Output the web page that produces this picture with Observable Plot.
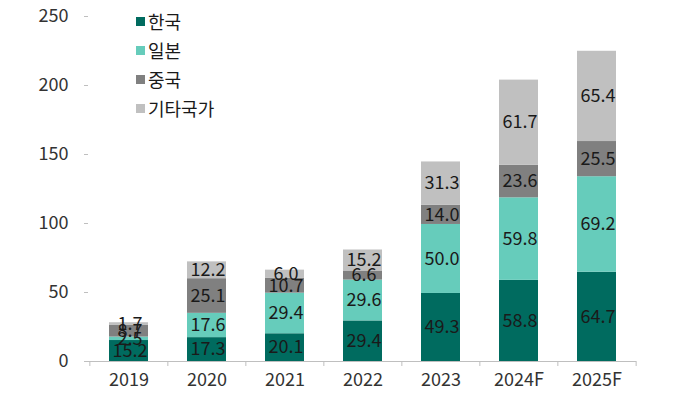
<!DOCTYPE html>
<html><head><meta charset="utf-8">
<script src="https://cdn.jsdelivr.net/npm/d3@7"></script>
<script src="https://cdn.jsdelivr.net/npm/@observablehq/plot@0.6"></script>
<style>
body{margin:0;background:#fff;font-family:"Noto Sans CJK KR","Noto Sans",sans-serif;}
#wrap{position:relative;width:680px;height:395px;}
#legend{position:absolute;left:136px;top:7px;font-size:18px;color:#1a1a1a;line-height:29px;}
#legend .it{display:flex;align-items:center;}
#legend .sw{width:9px;height:9px;margin-right:3px;display:inline-block;}
</style></head>
<body><div id="wrap"><div id="legend"></div></div>
<script>
const years = ["2019","2020","2021","2022","2023","2024F","2025F"];
const series = ["한국","일본","중국","기타국가"];
const korea = [15.2,17.3,20.1,29.4,49.3,58.8,64.7];
const japan = [2.5,17.6,29.4,29.6,50.0,59.8,69.2];
const china = [8.7,25.1,10.7,6.6,14.0,23.6,25.5];
const other = [1.7,12.2,6.0,15.2,31.3,61.7,65.4];
const colors = ["#006B5F","#66CCBB","#808080","#C0C0C0"];
const yTicks = [0,50,100,150,200,250];

const vals = [korea,japan,china,other];
const data = [];
years.forEach((y,i)=>series.forEach((s,j)=>data.push({year:y,series:s,value:vals[j][i]})));

const W=680,H=395,ML=88,MR=44,MT=16,MB=34;
const step=(W-ML-MR)/years.length;
const font='"Noto Sans CJK KR","Noto Sans",sans-serif';

const plot = Plot.plot({
  width:W,height:H,
  marginLeft:ML,marginRight:MR,marginTop:MT,marginBottom:MB,
  style:{fontFamily:font,fontSize:"18px",color:"#333",background:"#fff"},
  x:{domain:years,paddingInner:0.5,paddingOuter:0.25,label:null},
  y:{domain:[0,250],label:null},
  color:{domain:series,range:colors},
  marks:[
    Plot.barY(data,{x:"year",y:"value",z:"series",fill:"series",order:null}),
    Plot.text(data,Plot.stackY({x:"year",y:"value",z:"series",order:null,text:d=>d.value.toFixed(1),fill:"#1a1a1a",fontSize:18,dx:1})),
    Plot.ruleY([0],{stroke:"#bfbfbf",strokeWidth:1}),
    Plot.ruleX([0],{frameAnchor:"left",stroke:"#bfbfbf"}),
    Plot.ruleX(years,{x:d=>d,dx:-step/2,y1:0,y2:0,insetBottom:-5,stroke:"#bfbfbf"}),
    Plot.ruleX(years.slice(-1),{x:d=>d,dx:step/2,y1:0,y2:0,insetBottom:-5,stroke:"#bfbfbf"}),
    Plot.axisY({ticks:yTicks,tickSize:4,tickPadding:16,stroke:"#bfbfbf",fill:"#333",fontSize:18}),
    Plot.axisX({tickSize:0,tickPadding:12,fill:"#333",fontSize:18})
  ]
});
const wrap=document.getElementById("wrap");
wrap.appendChild(plot);
const lg=document.getElementById("legend");
series.forEach((s,i)=>{
  const d=document.createElement("div");d.className="it";
  d.innerHTML=`<span class="sw" style="background:${colors[i]}"></span><span>${s}</span>`;
  lg.appendChild(d);
});
</script></body></html>
